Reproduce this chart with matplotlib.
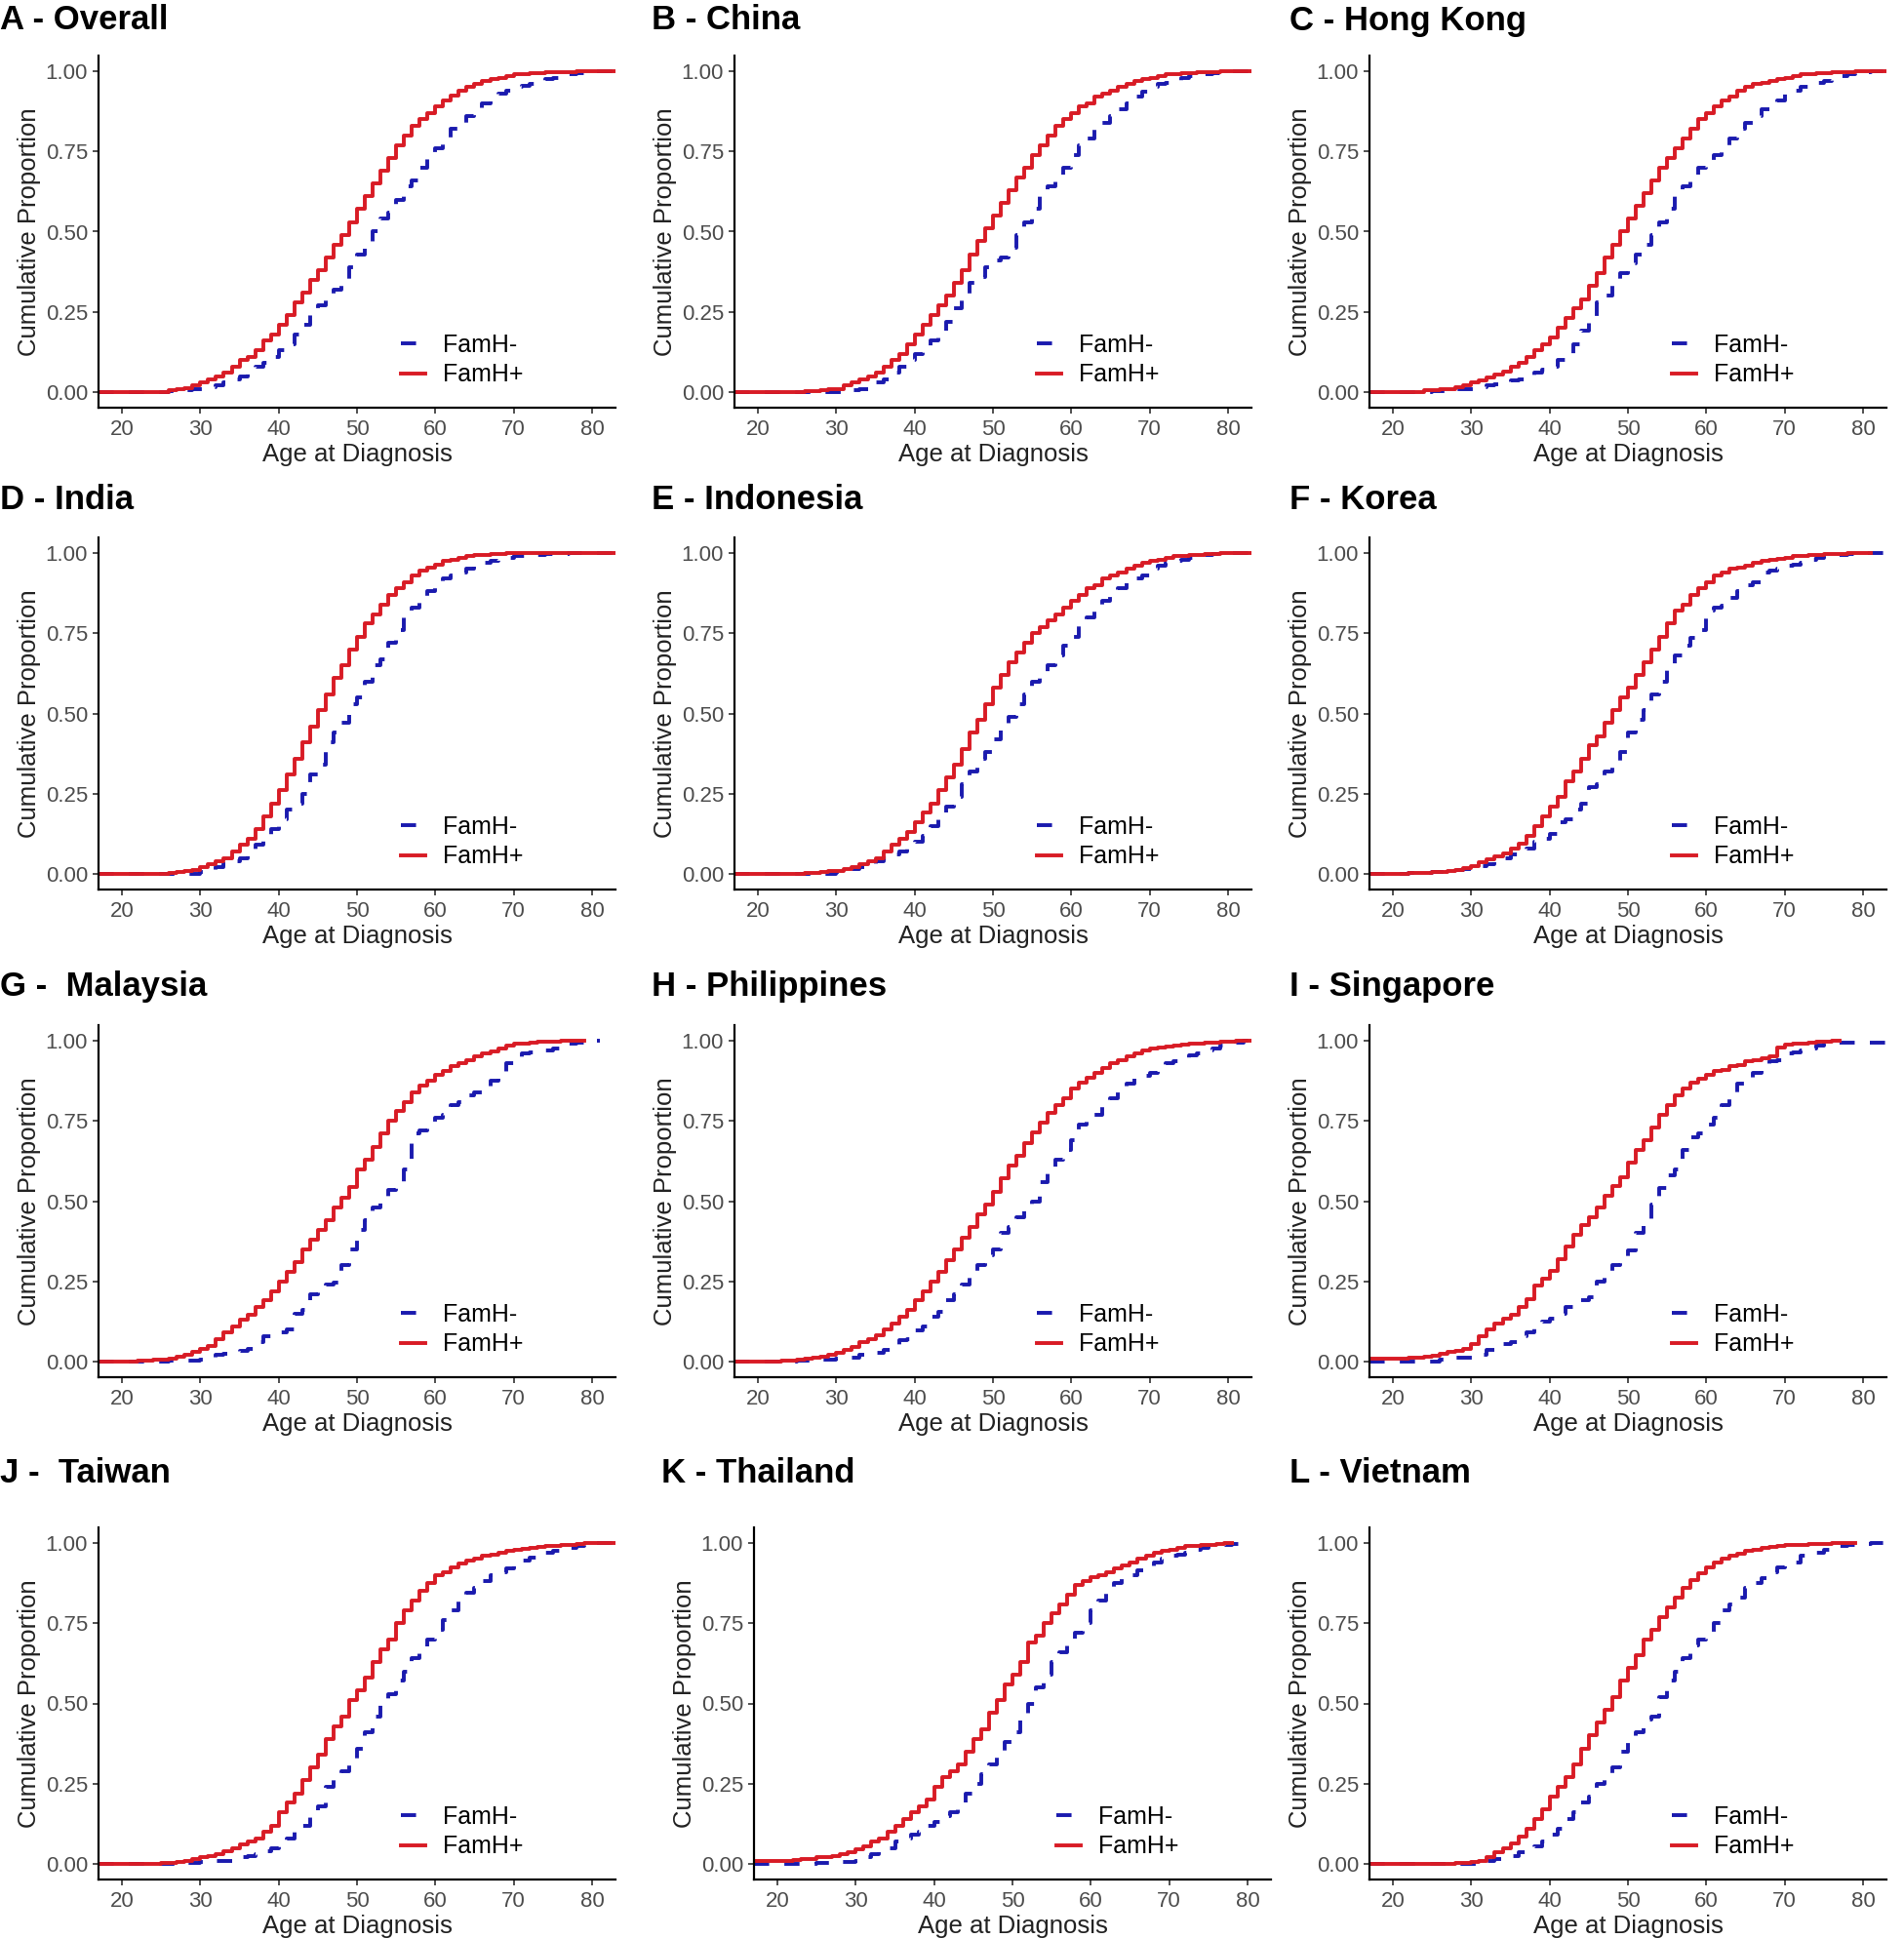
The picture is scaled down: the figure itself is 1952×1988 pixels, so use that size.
import matplotlib
matplotlib.use("Agg")
import matplotlib.pyplot as plt
import numpy as np

plt.rcParams['font.family'] = ['Liberation Sans', 'DejaVu Sans']

# cumulative proportion by age at diagnosis, one value per year starting at age 20
AGE0 = 20

titles = ["A - Overall", "B - China", "C - Hong Kong",
          "D - India", "E - Indonesia", "F - Korea",
          "G -  Malaysia", "H - Philippines", "I - Singapore",
          "J -  Taiwan", "K - Thailand", "L - Vietnam"]

overall_pos = [0, 0, 0, 0, 0, 0, 0.005, 0.008, 0.012, 0.02,
               0.03, 0.04, 0.05, 0.06, 0.08, 0.10, 0.11, 0.13, 0.16, 0.18,
               0.21, 0.24, 0.28, 0.31, 0.35, 0.38, 0.42, 0.46, 0.49, 0.53,
               0.57, 0.61, 0.65, 0.69, 0.73, 0.77, 0.80, 0.83, 0.85, 0.87,
               0.89, 0.91, 0.925, 0.94, 0.95, 0.96, 0.97, 0.975, 0.98, 0.985,
               0.99, 0.99, 0.993, 0.995, 0.996, 0.997, 0.998, 0.998, 0.999, 0.999, 1.0]
overall_neg = [0, 0, 0, 0, 0, 0, 0.002, 0.004, 0.006, 0.008,
               0.01, 0.015, 0.02, 0.03, 0.04, 0.05, 0.06, 0.08, 0.09, 0.11,
               0.13, 0.15, 0.18, 0.21, 0.24, 0.27, 0.29, 0.32, 0.35, 0.39,
               0.43, 0.46, 0.50, 0.54, 0.56, 0.60, 0.64, 0.66, 0.70, 0.73,
               0.76, 0.79, 0.82, 0.84, 0.86, 0.88, 0.90, 0.91, 0.93, 0.94,
               0.95, 0.955, 0.96, 0.97, 0.975, 0.98, 0.985, 0.99, 0.993, 0.996, 1.0]

china_pos = [0, 0, 0, 0, 0, 0, 0.003, 0.004, 0.005, 0.008,
             0.01, 0.02, 0.03, 0.04, 0.05, 0.06, 0.08, 0.10, 0.12, 0.15,
             0.18, 0.21, 0.24, 0.27, 0.30, 0.34, 0.38, 0.43, 0.47, 0.51,
             0.55, 0.59, 0.63, 0.67, 0.70, 0.74, 0.77, 0.80, 0.83, 0.85,
             0.87, 0.89, 0.90, 0.92, 0.93, 0.94, 0.95, 0.96, 0.97, 0.975,
             0.98, 0.985, 0.99, 0.99, 0.993, 0.995, 0.996, 0.997, 0.998, 0.999, 1.0]
china_neg = [0, 0, 0, 0, 0, 0, 0, 0, 0, 0,
             0, 0, 0.005, 0.01, 0.02, 0.03, 0.04, 0.06, 0.08, 0.10,
             0.12, 0.14, 0.16, 0.19, 0.22, 0.26, 0.30, 0.34, 0.36, 0.39,
             0.41, 0.42, 0.45, 0.49, 0.53, 0.57, 0.61, 0.64, 0.67, 0.70,
             0.74, 0.77, 0.79, 0.82, 0.84, 0.86, 0.88, 0.90, 0.92, 0.935,
             0.95, 0.96, 0.965, 0.97, 0.98, 0.985, 0.99, 0.99, 0.995, 0.998, 1.0]

hongkong_pos = [0, 0, 0, 0, 0.005, 0.005, 0.01, 0.01, 0.015, 0.02,
                0.03, 0.035, 0.045, 0.055, 0.065, 0.08, 0.09, 0.11, 0.13, 0.15,
                0.17, 0.20, 0.23, 0.26, 0.29, 0.33, 0.37, 0.42, 0.46, 0.50,
                0.54, 0.58, 0.62, 0.66, 0.70, 0.73, 0.76, 0.79, 0.82, 0.85,
                0.87, 0.89, 0.91, 0.92, 0.94, 0.95, 0.96, 0.965, 0.97, 0.975,
                0.98, 0.985, 0.99, 0.99, 0.993, 0.995, 0.996, 0.997, 0.998, 0.999, 1.0]
hongkong_neg = [0, 0, 0, 0, 0, 0.002, 0.004, 0.006, 0.008, 0.01,
                0.01, 0.015, 0.02, 0.025, 0.03, 0.035, 0.04, 0.05, 0.06, 0.07,
                0.08, 0.10, 0.12, 0.15, 0.19, 0.23, 0.28, 0.30, 0.34, 0.37,
                0.40, 0.43, 0.46, 0.49, 0.53, 0.57, 0.61, 0.64, 0.67, 0.70,
                0.72, 0.74, 0.77, 0.79, 0.82, 0.84, 0.86, 0.88, 0.90, 0.91,
                0.93, 0.94, 0.95, 0.96, 0.965, 0.97, 0.98, 0.985, 0.99, 0.995, 0.998, 1.0]

india_pos = [0, 0, 0, 0, 0, 0, 0.003, 0.005, 0.008, 0.012,
             0.02, 0.03, 0.04, 0.05, 0.07, 0.09, 0.11, 0.14, 0.18, 0.22,
             0.26, 0.31, 0.36, 0.41, 0.46, 0.51, 0.56, 0.61, 0.65, 0.70,
             0.74, 0.78, 0.81, 0.84, 0.87, 0.89, 0.91, 0.93, 0.945, 0.955,
             0.965, 0.975, 0.98, 0.985, 0.99, 0.993, 0.995, 0.997, 0.998, 0.999,
             1.0, 1.0, 1.0, 1.0, 1.0, 1.0, 1.0, 1.0, 1.0, 1.0, 1.0]
india_neg = [0, 0, 0, 0, 0, 0, 0, 0, 0, 0,
             0.005, 0.01, 0.02, 0.03, 0.04, 0.05, 0.07, 0.09, 0.11, 0.14,
             0.17, 0.20, 0.22, 0.25, 0.31, 0.34, 0.41, 0.44, 0.47, 0.53,
             0.55, 0.60, 0.65, 0.67, 0.72, 0.76, 0.80, 0.83, 0.85, 0.88,
             0.90, 0.92, 0.93, 0.94, 0.95, 0.96, 0.97, 0.975, 0.98, 0.985,
             0.99, 0.99, 0.993, 0.995, 0.996, 0.997, 0.998, 0.999, 1.0, 1.0, 1.0]

indonesia_pos = [0, 0, 0, 0, 0, 0, 0.002, 0.004, 0.006, 0.008,
                 0.01, 0.015, 0.02, 0.03, 0.04, 0.05, 0.07, 0.09, 0.11, 0.13,
                 0.16, 0.19, 0.22, 0.26, 0.30, 0.34, 0.39, 0.44, 0.48, 0.53,
                 0.58, 0.62, 0.66, 0.69, 0.72, 0.75, 0.77, 0.79, 0.81, 0.83,
                 0.85, 0.87, 0.89, 0.90, 0.92, 0.93, 0.94, 0.95, 0.96, 0.97,
                 0.975, 0.98, 0.985, 0.99, 0.99, 0.993, 0.995, 0.997, 0.998, 0.999, 1.0]
indonesia_neg = [0, 0, 0, 0, 0, 0, 0, 0, 0, 0,
                 0.005, 0.01, 0.015, 0.02, 0.03, 0.04, 0.05, 0.06, 0.07, 0.08,
                 0.10, 0.12, 0.15, 0.18, 0.21, 0.24, 0.28, 0.32, 0.36, 0.38,
                 0.42, 0.46, 0.49, 0.53, 0.56, 0.60, 0.62, 0.65, 0.68, 0.71,
                 0.74, 0.78, 0.80, 0.82, 0.85, 0.87, 0.89, 0.91, 0.92, 0.93,
                 0.95, 0.96, 0.97, 0.975, 0.98, 0.985, 0.99, 0.993, 0.996, 0.998, 1.0]

korea_pos = [0, 0, 0.002, 0.003, 0.004, 0.005, 0.007, 0.01, 0.013, 0.018,
             0.025, 0.035, 0.045, 0.055, 0.065, 0.08, 0.095, 0.12, 0.15, 0.18,
             0.21, 0.24, 0.29, 0.32, 0.36, 0.40, 0.43, 0.47, 0.51, 0.55,
             0.58, 0.62, 0.66, 0.70, 0.74, 0.78, 0.82, 0.84, 0.87, 0.89,
             0.91, 0.93, 0.94, 0.95, 0.955, 0.96, 0.97, 0.975, 0.98, 0.983,
             0.986, 0.99, 0.99, 0.993, 0.995, 0.996, 0.997, 0.998, 0.999, 1.0]
korea_neg = [0, 0, 0.002, 0.003, 0.004, 0.005, 0.007, 0.01, 0.013, 0.016,
             0.02, 0.025, 0.03, 0.04, 0.05, 0.06, 0.07, 0.08, 0.10, 0.11,
             0.125, 0.16, 0.17, 0.20, 0.22, 0.27, 0.28, 0.32, 0.33, 0.38,
             0.44, 0.48, 0.51, 0.56, 0.60, 0.64, 0.68, 0.71, 0.735, 0.76,
             0.82, 0.83, 0.835, 0.86, 0.88, 0.90, 0.91, 0.94, 0.945, 0.95,
             0.96, 0.965, 0.97, 0.98, 0.985, 0.99, 0.993, 0.995, 0.997, 0.999, 1.0]

malaysia_pos = [0, 0, 0.002, 0.003, 0.005, 0.007, 0.01, 0.015, 0.022, 0.03,
                0.04, 0.05, 0.07, 0.09, 0.11, 0.13, 0.145, 0.17, 0.19, 0.22,
                0.25, 0.28, 0.31, 0.35, 0.38, 0.41, 0.44, 0.48, 0.51, 0.545,
                0.60, 0.63, 0.67, 0.71, 0.75, 0.78, 0.81, 0.84, 0.86, 0.875,
                0.895, 0.905, 0.92, 0.93, 0.94, 0.95, 0.96, 0.967, 0.977, 0.984,
                0.99, 0.992, 0.995, 0.996, 0.997, 0.998, 0.999, 0.999, 1.0]
malaysia_neg = [0, 0, 0, 0, 0, 0, 0.003, 0.003, 0.003, 0.003,
                0.007, 0.01, 0.022, 0.025, 0.03, 0.033, 0.04, 0.06, 0.08, 0.085,
                0.09, 0.10, 0.15, 0.16, 0.21, 0.215, 0.24, 0.245, 0.30, 0.35,
                0.41, 0.44, 0.48, 0.51, 0.535, 0.56, 0.60, 0.71, 0.72, 0.73,
                0.76, 0.77, 0.80, 0.81, 0.83, 0.84, 0.85, 0.875, 0.89, 0.93,
                0.94, 0.96, 0.965, 0.97, 0.97, 0.975, 0.98, 0.99, 0.995, 0.997, 1.0]

philippines_pos = [0, 0, 0.001, 0.002, 0.004, 0.006, 0.008, 0.011, 0.016, 0.02,
                   0.026, 0.035, 0.047, 0.06, 0.07, 0.082, 0.10, 0.12, 0.14, 0.16,
                   0.19, 0.22, 0.25, 0.28, 0.315, 0.35, 0.385, 0.42, 0.46, 0.49,
                   0.53, 0.57, 0.61, 0.64, 0.68, 0.715, 0.745, 0.775, 0.80, 0.82,
                   0.85, 0.87, 0.885, 0.90, 0.915, 0.93, 0.94, 0.95, 0.96, 0.97,
                   0.975, 0.98, 0.983, 0.986, 0.988, 0.99, 0.992, 0.994, 0.995, 0.996,
                   0.998, 0.999, 1.0]
philippines_neg = [0, 0, 0, 0, 0, 0.002, 0.003, 0.004, 0.005, 0.007,
                   0.01, 0.012, 0.013, 0.02, 0.023, 0.026, 0.036, 0.04, 0.067, 0.07,
                   0.097, 0.11, 0.14, 0.155, 0.19, 0.21, 0.24, 0.27, 0.30, 0.33,
                   0.35, 0.40, 0.42, 0.45, 0.47, 0.50, 0.56, 0.60, 0.63, 0.66,
                   0.69, 0.74, 0.76, 0.77, 0.80, 0.82, 0.85, 0.865, 0.88, 0.89,
                   0.90, 0.915, 0.93, 0.935, 0.945, 0.955, 0.96, 0.97, 0.975, 0.985,
                   0.99, 0.995, 1.0]

singapore_pos = [0.008, 0.01, 0.012, 0.013, 0.015, 0.018, 0.023, 0.03, 0.034, 0.04,
                 0.054, 0.08, 0.10, 0.12, 0.135, 0.145, 0.17, 0.196, 0.237, 0.257,
                 0.283, 0.32, 0.36, 0.395, 0.425, 0.45, 0.48, 0.517, 0.547, 0.573,
                 0.62, 0.66, 0.69, 0.73, 0.77, 0.80, 0.83, 0.85, 0.87, 0.88,
                 0.895, 0.905, 0.91, 0.92, 0.925, 0.935, 0.94, 0.945, 0.95, 0.98,
                 0.987, 0.99, 0.992, 0.995, 0.996, 0.997, 1.0]
singapore_neg = [0, 0, 0, 0, 0, 0, 0.005, 0.008, 0.013, 0.013,
                 0.013, 0.02, 0.035, 0.04, 0.055, 0.06, 0.08, 0.09, 0.11, 0.125,
                 0.135, 0.15, 0.17, 0.18, 0.19, 0.20, 0.25, 0.26, 0.30, 0.31,
                 0.345, 0.40, 0.435, 0.49, 0.54, 0.58, 0.60, 0.66, 0.70, 0.71,
                 0.74, 0.76, 0.80, 0.82, 0.865, 0.88, 0.90, 0.91, 0.935, 0.94,
                 0.96, 0.965, 0.97, 0.975, 0.985, 0.99, 0.993, 0.993, 0.993]

taiwan_pos = [0, 0, 0, 0, 0, 0.002, 0.004, 0.006, 0.01, 0.015,
              0.02, 0.025, 0.03, 0.04, 0.05, 0.06, 0.07, 0.08, 0.10, 0.12,
              0.16, 0.19, 0.22, 0.26, 0.30, 0.34, 0.39, 0.43, 0.46, 0.51,
              0.54, 0.58, 0.63, 0.67, 0.70, 0.75, 0.79, 0.82, 0.85, 0.875,
              0.90, 0.91, 0.925, 0.935, 0.945, 0.95, 0.96, 0.965, 0.97, 0.975,
              0.98, 0.983, 0.986, 0.988, 0.99, 0.99, 0.993, 0.995, 0.997, 0.999, 1.0]
taiwan_neg = [0, 0, 0, 0, 0, 0, 0, 0.002, 0.003, 0.004,
              0.005, 0.007, 0.008, 0.01, 0.015, 0.02, 0.025, 0.03, 0.04, 0.05,
              0.06, 0.08, 0.10, 0.12, 0.16, 0.18, 0.24, 0.26, 0.29, 0.31,
              0.36, 0.41, 0.46, 0.50, 0.53, 0.57, 0.60, 0.64, 0.67, 0.70,
              0.73, 0.76, 0.79, 0.82, 0.845, 0.86, 0.88, 0.90, 0.91, 0.92,
              0.935, 0.945, 0.955, 0.96, 0.97, 0.975, 0.98, 0.985, 0.99, 0.995, 1.0]

thailand_pos = [0.01, 0.01, 0.012, 0.014, 0.016, 0.02, 0.022, 0.025, 0.03, 0.035,
                0.045, 0.055, 0.07, 0.08, 0.10, 0.12, 0.14, 0.16, 0.18, 0.20,
                0.24, 0.27, 0.29, 0.31, 0.35, 0.39, 0.42, 0.47, 0.51, 0.56,
                0.59, 0.63, 0.69, 0.71, 0.75, 0.78, 0.81, 0.84, 0.87, 0.88,
                0.895, 0.90, 0.91, 0.92, 0.93, 0.94, 0.95, 0.96, 0.97, 0.975,
                0.98, 0.985, 0.99, 0.992, 0.994, 0.995, 0.997, 1.0]
thailand_neg = [0, 0, 0, 0, 0, 0.002, 0.003, 0.004, 0.005, 0.007,
                0.008, 0.02, 0.03, 0.04, 0.05, 0.07, 0.08, 0.09, 0.10, 0.12,
                0.13, 0.15, 0.16, 0.18, 0.22, 0.25, 0.28, 0.31, 0.35, 0.38,
                0.41, 0.46, 0.50, 0.55, 0.59, 0.63, 0.66, 0.69, 0.72, 0.75,
                0.79, 0.82, 0.86, 0.875, 0.89, 0.90, 0.915, 0.925, 0.94, 0.95,
                0.96, 0.965, 0.97, 0.98, 0.985, 0.99, 0.99, 0.995, 0.997, 1.0]

vietnam_pos = [0, 0, 0, 0, 0, 0, 0, 0.001, 0.003, 0.004,
               0.005, 0.01, 0.02, 0.035, 0.05, 0.065, 0.085, 0.11, 0.14, 0.17,
               0.21, 0.24, 0.27, 0.31, 0.36, 0.40, 0.44, 0.48, 0.52, 0.57,
               0.61, 0.65, 0.70, 0.73, 0.77, 0.80, 0.83, 0.86, 0.885, 0.905,
               0.925, 0.94, 0.95, 0.96, 0.968, 0.975, 0.98, 0.985, 0.988, 0.99,
               0.993, 0.994, 0.995, 0.996, 0.997, 0.998, 0.999, 1.0, 1.0, 1.0]
vietnam_neg = [0, 0, 0, 0, 0, 0, 0, 0, 0, 0,
               0, 0.005, 0.01, 0.015, 0.02, 0.025, 0.035, 0.04, 0.055, 0.07,
               0.09, 0.11, 0.14, 0.16, 0.19, 0.21, 0.25, 0.26, 0.30, 0.35,
               0.39, 0.41, 0.45, 0.46, 0.52, 0.57, 0.60, 0.64, 0.68, 0.70,
               0.72, 0.75, 0.79, 0.81, 0.83, 0.86, 0.875, 0.89, 0.91, 0.925,
               0.93, 0.94, 0.96, 0.965, 0.97, 0.98, 0.985, 0.99, 0.993, 0.995,
               0.997, 1.0]

pos_series = [overall_pos, china_pos, hongkong_pos, india_pos, indonesia_pos, korea_pos,
              malaysia_pos, philippines_pos, singapore_pos, taiwan_pos, thailand_pos, vietnam_pos]
neg_series = [overall_neg, china_neg, hongkong_neg, india_neg, indonesia_neg, korea_neg,
              malaysia_neg, philippines_neg, singapore_neg, taiwan_neg, thailand_neg, vietnam_neg]
# age where each step curve stops on the right
pos_end = [83, 83, 83, 83, 83, 81, 79, 83, 77, 83, 78, 79]
neg_end = [83, 83, 83, 83, 83, 83, 81, 83, 83, 83, 80, 83]

RED = "#D81B25"
BLUE = "#1A1AAE"
TICK_GREY = "#4D4D4D"

W, H = 1952, 1988
fig = plt.figure(figsize=(W / 100, H / 100), dpi=100)

# layout in pixels: axes lefts per panel, y pixel of value 1.0 per row
col_left = [101, 753, 1404]
row_y1 = [73, 567, 1067, 1582]
unit_h = 329
ax_w = 530
title_x = [0, 668, 1322]
title_y = [21, 513, 1012, 1511]


def step_xy(vals, end):
    ages = AGE0 + np.arange(len(vals))
    x = np.concatenate([[17], ages, [end]])
    y = np.concatenate([[vals[0]], vals, [vals[-1]]])
    return x, y


for i, title in enumerate(titles):
    r, c = divmod(i, 3)
    left = col_left[c] + (20 if i == 10 else 0)
    top = row_y1[r] - 0.05 * unit_h
    h = 1.1 * unit_h
    ax = fig.add_axes([left / W, 1 - (top + h) / H, ax_w / W, h / H])

    xn, yn = step_xy(neg_series[i], neg_end[i])
    xp, yp = step_xy(pos_series[i], pos_end[i])
    ax.step(xn, yn, where='post', color=BLUE, lw=2.8, linestyle=(0, (4, 4)), label='FamH-')
    ax.step(xp, yp, where='post', color=RED, lw=2.8, label='FamH+')

    ax.set_xlim(17, 83)
    ax.set_ylim(-0.05, 1.05)
    ax.set_xticks([20, 30, 40, 50, 60, 70, 80])
    ax.set_yticks([0, 0.25, 0.5, 0.75, 1.0])
    ax.set_yticklabels(["0.00", "0.25", "0.50", "0.75", "1.00"])
    ax.tick_params(labelsize=16, labelcolor=TICK_GREY, color='#333333',
                   length=4, width=1.2, pad=4)
    for s in ['top', 'right']:
        ax.spines[s].set_visible(False)
    for s in ['left', 'bottom']:
        ax.spines[s].set_linewidth(1.6)
    ax.set_xlabel("Age at Diagnosis", fontsize=18.5, color='#222222', labelpad=2.5)
    ax.set_ylabel("Cumulative Proportion", fontsize=18.5, color='#222222', labelpad=3)

    ax.legend(loc='center left', bbox_to_anchor=(0.585, 0.136), frameon=False,
              fontsize=18, handlelength=1.0, handletextpad=0.7,
              labelspacing=0.25, borderpad=0, borderaxespad=0)

    tx = title_x[c] + (10 if i == 10 else 0)
    fig.text(tx / W, 1 - title_y[r] / H, title, fontsize=25, fontweight='bold',
             ha='left', va='center')

fig.savefig("out.png", dpi=100)
